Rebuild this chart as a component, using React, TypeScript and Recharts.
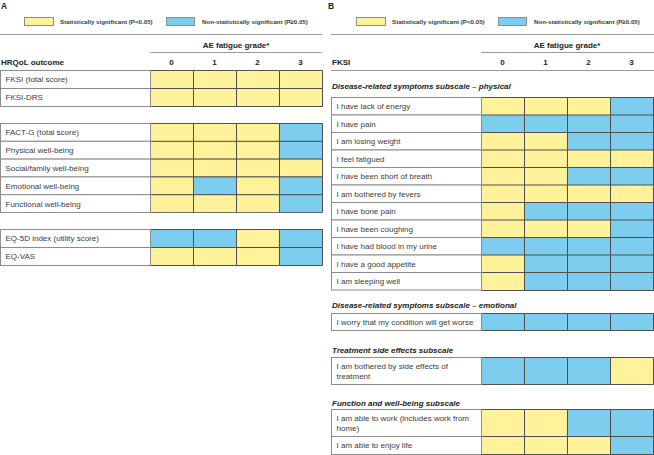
import React from 'react';
import { BarChart, Bar, XAxis, YAxis, Cell } from 'recharts';

// AE fatigue grades (columns)
const grades = ['0', '1', '2', '3'];

// 1 = statistically significant (P<0.05), 0 = non-significant (P≥0.05)
const hrqolFksiItems = ['FKSI (total score)', 'FKSI-DRS'];
const hrqolFksiSig = [
  [1, 1, 1, 1],
  [1, 1, 1, 1],
];

const hrqolFactItems = [
  'FACT-G (total score)',
  'Physical well-being',
  'Social/family well-being',
  'Emotional well-being',
  'Functional well-being',
];
const hrqolFactSig = [
  [1, 1, 1, 0],
  [1, 1, 1, 0],
  [1, 1, 1, 1],
  [1, 0, 1, 0],
  [1, 1, 1, 0],
];

const hrqolEqItems = ['EQ-5D index (utility score)', 'EQ-VAS'];
const hrqolEqSig = [
  [0, 0, 1, 0],
  [1, 1, 1, 0],
];

const physicalItems = [
  'I have lack of energy',
  'I have pain',
  'I am losing weight',
  'I feel fatigued',
  'I have been short of breath',
  'I am bothered by fevers',
  'I have bone pain',
  'I have been coughing',
  'I have had blood in my urine',
  'I have a good appetite',
  'I am sleeping well',
];
const physicalSig = [
  [1, 1, 1, 0],
  [0, 0, 0, 0],
  [1, 1, 0, 0],
  [1, 1, 1, 1],
  [1, 1, 0, 0],
  [1, 1, 1, 1],
  [1, 0, 0, 0],
  [1, 1, 1, 0],
  [0, 0, 0, 0],
  [1, 0, 0, 0],
  [1, 0, 0, 0],
];

const emotionalItems = ['I worry that my condition will get worse'];
const emotionalSig = [[0, 0, 0, 0]];

const sideEffectItems = ['I am bothered by side effects of treatment'];
const sideEffectSig = [[0, 0, 0, 1]];

const workItems = ['I am able to work (includes work from home)'];
const workSig = [[1, 1, 0, 0]];
const enjoyItems = ['I am able to enjoy life'];
const enjoySig = [[1, 1, 1, 0]];

const sigLabel = 'Statistically significant (P<0.05)';
const nonSigLabel = 'Non-statistically significant (P≥0.05)';

const FONT = '"Liberation Sans", Arial, Helvetica, sans-serif';
const YELLOW = '#FFF29B';
const BLUE = '#7DCDEF';
const CELL_STROKE = '#4f4f4f';
const LABEL_STROKE = '#8c8c8c';
const RULE = '#9a9a9a';
const TEXT = '#3c3c3c';
const COL_W = 43;
const LABEL_W = 150;

function wrapLabel(text: string, maxChars: number) {
  const words = text.split(' ');
  const lines: string[] = [];
  let cur = '';
  words.forEach((w) => {
    const next = cur ? cur + ' ' + w : w;
    if (next.length > maxChars && cur) {
      lines.push(cur);
      cur = w;
    } else {
      cur = next;
    }
  });
  if (cur) lines.push(cur);
  return lines;
}

function RowLabel(props: any) {
  const { x, y, payload, labelWidth, rowHeight } = props;
  const lines = wrapLabel(String(payload.value), 40);
  const lineGap = 10.5;
  const first = y - ((lines.length - 1) * lineGap) / 2;
  const left = x - labelWidth;
  return (
    <g>
      <rect x={left} y={y - rowHeight / 2} width={labelWidth} height={rowHeight} fill="#fff" stroke={LABEL_STROKE} />
      <text fontFamily={FONT} fontSize={8} fill={TEXT}>
        {lines.map((l, i) => (
          <tspan key={i} x={left + 5} y={first + i * lineGap + 2.9}>
            {l}
          </tspan>
        ))}
      </text>
    </g>
  );
}

interface GridBlockProps {
  items: string[];
  sig: number[][];
  left: number;
  top: number;
  rowHeight: number;
}

function GridBlock({ items, sig, left, top, rowHeight }: GridBlockProps) {
  // every grade occupies one unit of the stacked row; colour carries significance
  const data = items.map((label, i) => {
    const row: any = { label };
    grades.forEach((g, gi) => {
      row['g' + g] = 1;
      row['s' + g] = sig[i][gi];
    });
    return row;
  });
  const width = LABEL_W + grades.length * COL_W + 1.5;
  const height = items.length * rowHeight + 1;

  return (
    <div style={{ position: 'absolute', left, top }}>
      <BarChart
        layout="vertical"
        width={width}
        height={height}
        data={data}
        margin={{ top: 0.5, right: 1, bottom: 0.5, left: 0.5 }}
        barCategoryGap={0}
        barGap={0}
      >
        <XAxis type="number" domain={[0, grades.length]} hide />
        <YAxis
          type="category"
          dataKey="label"
          width={LABEL_W}
          axisLine={false}
          tickLine={false}
          tickSize={0}
          tickMargin={0}
          interval={0}
          tick={(p: any) => <RowLabel {...p} labelWidth={LABEL_W} rowHeight={rowHeight} />}
        />
        {grades.map((g) => (
          <Bar key={g} dataKey={'g' + g} stackId="grade" stroke={CELL_STROKE} strokeWidth={1} isAnimationActive={false}>
            {data.map((d: any, i: number) => (
              <Cell key={i} fill={d['s' + g] ? YELLOW : BLUE} />
            ))}
          </Bar>
        ))}
      </BarChart>
    </div>
  );
}

interface HeaderProps {
  x0: number;
  right: number;
  letter: string;
  letterX: number;
  legendX: number;
  title: string;
  titleX: number;
  bottomRule: boolean;
}

function PanelHeader({ x0, right, letter, letterX, legendX, title, titleX, bottomRule }: HeaderProps) {
  const gridLeft = x0 + LABEL_W;
  const gridRight = gridLeft + grades.length * COL_W;
  return (
    <g fontFamily={FONT}>
      <text x={letterX} y={9} fontSize={8.5} fontWeight="bold" fill="#222">
        {letter}
      </text>
      <rect x={legendX + 0.5} y={17.5} width={29} height={8} fill={YELLOW} stroke={LABEL_STROKE} />
      <text x={legendX + 36} y={23.5} fontSize={6.2} fontWeight="bold" fill={TEXT}>
        {sigLabel}
      </text>
      <rect x={legendX + 142.5} y={17.5} width={28} height={8} fill={BLUE} stroke={LABEL_STROKE} />
      <text x={legendX + 178} y={23.5} fontSize={6.2} fontWeight="bold" fill={TEXT}>
        {nonSigLabel}
      </text>
      <line x1={x0} x2={right} y1={34.5} y2={34.5} stroke={RULE} />
      <text x={(gridLeft + gridRight) / 2} y={48} fontSize={8} fontWeight="bold" fill="#222" textAnchor="middle">
        AE fatigue grade*
      </text>
      <line x1={gridLeft} x2={right} y1={52.5} y2={52.5} stroke={RULE} />
      <text x={titleX} y={65} fontSize={8} fontWeight="bold" fill="#222">
        {title}
      </text>
      {grades.map((g, i) => (
        <text key={g} x={gridLeft + (i + 0.5) * COL_W} y={65} fontSize={8} fontWeight="bold" fill="#222" textAnchor="middle">
          {g}
        </text>
      ))}
      {bottomRule && <line x1={x0} x2={right} y1={70.5} y2={70.5} stroke={RULE} />}
    </g>
  );
}

function Subtitle({ x, y, text }: { x: number; y: number; text: string }) {
  return (
    <text x={x} y={y} fontFamily={FONT} fontSize={8} fontWeight="bold" fontStyle="italic" fill="#222">
      {text}
    </text>
  );
}

export default function App() {
  const aLeft = 0;
  const bLeft = 331;
  return (
    <div
      style={{
        position: 'absolute',
        left: 0,
        top: 0,
        width: 654,
        height: 455,
        background: '#fff',
        overflow: 'hidden',
      }}
    >
      <svg width={654} height={455} style={{ position: 'absolute', left: 0, top: 0 }}>
        <PanelHeader x0={aLeft} right={322} letter="A" letterX={1} legendX={24} title="HRQoL outcome" titleX={1} bottomRule={false} />
        <PanelHeader x0={bLeft} right={654} letter="B" letterX={328} legendX={356} title="FKSI" titleX={332} bottomRule={true} />
        <Subtitle x={332} y={89} text="Disease-related symptoms subscale – physical" />
        <Subtitle x={332} y={308} text="Disease-related symptoms subscale – emotional" />
        <Subtitle x={332} y={352.5} text="Treatment side effects subscale" />
        <Subtitle x={332} y={405.5} text="Function and well-being subscale" />
      </svg>

      <GridBlock items={hrqolFksiItems} sig={hrqolFksiSig} left={aLeft} top={70} rowHeight={18} />
      <GridBlock items={hrqolFactItems} sig={hrqolFactSig} left={aLeft} top={123} rowHeight={17.8} />
      <GridBlock items={hrqolEqItems} sig={hrqolEqSig} left={aLeft} top={229} rowHeight={18} />

      <GridBlock items={physicalItems} sig={physicalSig} left={bLeft} top={97} rowHeight={17.5} />
      <GridBlock items={emotionalItems} sig={emotionalSig} left={bLeft} top={313} rowHeight={17} />
      <GridBlock items={sideEffectItems} sig={sideEffectSig} left={bLeft} top={357} rowHeight={27} />
      <GridBlock items={workItems} sig={workSig} left={bLeft} top={409} rowHeight={27} />
      <GridBlock items={enjoyItems} sig={enjoySig} left={bLeft} top={436} rowHeight={18} />
    </div>
  );
}
